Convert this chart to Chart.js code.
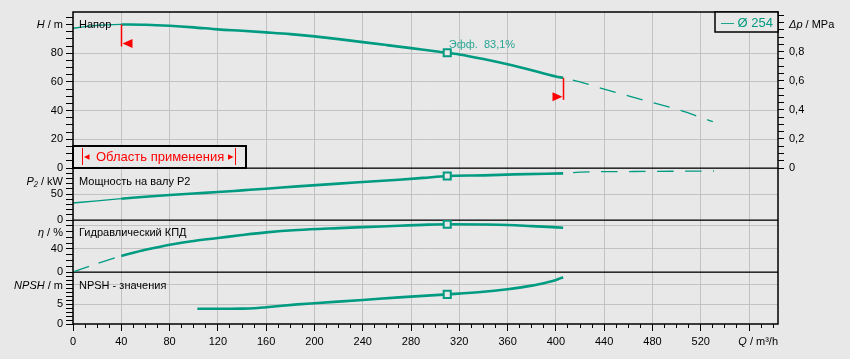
<!DOCTYPE html>
<html>
<head>
<meta charset="utf-8">
<script src="https://cdn.jsdelivr.net/npm/chart.js@4.4.0/dist/chart.umd.min.js"></script>
<style>
  html, body { margin: 0; padding: 0; background: #e8e8e8; }
  canvas { display: block; }
</style>
</head>
<body>
<canvas id="pump-chart" width="850" height="359"></canvas>
<script>
// Pump curves, Q in m3/h

const qHead = [0, 10, 20, 40, 60, 80, 100, 120, 140, 160, 180, 200, 220, 240, 260, 280, 300, 310, 320, 340, 360, 380, 400, 406];
const head = [97.4, 98.6, 99.5, 100.1, 99.9, 99.2, 98.1, 96.7, 95.7, 94.6, 93.4, 91.8, 89.9, 87.8, 85.7, 83.6, 81.4, 80.4, 79.2, 76.0, 72.3, 68.2, 63.8, 62.9];
const qHeadExt = [406, 420, 440, 460, 480, 500, 520, 530];
const headExt = [62.9, 60.0, 55.0, 50.3, 45.6, 41.0, 35.3, 32.3];

const qPower = [0, 20, 40, 60, 80, 100, 120, 140, 160, 186, 220, 240, 270, 290, 310, 340, 365, 406];
const power = [32.7, 36.9, 41, 44.6, 48, 51, 53.8, 57, 60.2, 64.6, 70, 73, 77.5, 81, 84.6, 85.8, 87.7, 89.6];
const qPowerExt = [406, 420, 460, 500, 531];
const powerExt = [89.6, 92, 93.2, 93.8, 94.2];

const qEta = [0, 20, 40, 60, 80, 100, 120, 140, 160, 186, 220, 240, 270, 290, 310, 340, 360, 380, 406];
const eta = [0, 14.5, 28, 38.5, 47.5, 54, 59.1, 64.3, 68.9, 73, 76.3, 78.0, 80.3, 82, 83.1, 82.6, 81.8, 79.8, 77];

const qNpsh = [103, 120, 140, 150, 160, 186, 200, 240, 270, 310, 340, 360, 370, 380, 390, 400, 406];
const npsh = [3.8, 3.8, 3.85, 3.95, 4.2, 4.9, 5.2, 6.0, 6.65, 7.4, 8.05, 8.7, 9.1, 9.6, 10.2, 11.0, 11.7];

const bepQ = 310;
const appRange = [40, 406];

// tick labels and grid lines
const qLabels = [0, 40, 80, 120, 160, 200, 240, 280, 320, 360, 400, 440, 480, 520];
const headLabels = [0, 20, 40, 60, 80];
const headGrid = [20, 40, 60, 80];
const dpLabels = [0, 0.2, 0.4, 0.6, 0.8];
const powerLabels = [0, 50];
const powerGrid = [50];
const etaLabels = [0, 40];
const etaGrid = [40, 80];
const npshLabels = [0, 5];
const npshGrid = [5, 10];

const teal = '#009b80';
const gridGray = '#c2c2c2';
const bg = '#e8e8e8';
const family = '"Liberation Sans", Arial, sans-serif';
const font = { family, size: 11 };
const none = 'rgba(0,0,0,0)';

function pts(qs, vs, from, to) {
  return qs.map((q, i) => ({ x: q, y: vs[i] })).filter(p => p.x >= from && p.x <= to);
}

function steps(max, step) {
  const out = [];
  for (let v = 0; v <= max + 1e-9; v += step) out.push({ value: Math.round(v * 1000) / 1000 });
  return out;
}

function leftAxis(weight, stackWeight, max, step, labels, grid) {
  return {
    type: 'linear',
    position: 'left',
    stack: 'left',
    stackWeight,
    weight,
    min: 0,
    max,
    afterBuildTicks: a => { a.ticks = steps(max, step); },
    afterFit: a => { a.width = 73; },
    ticks: { autoSkip: false, color: '#000', font, padding: 3, callback: v => labels.includes(v) ? v : '' },
    grid: {
      color: c => c.tick && grid.includes(c.tick.value) ? gridGray : none,
      tickColor: '#000',
      tickLength: 7,
    },
    border: { display: false },
  };
}

function line(data, yAxisID, extra) {
  return Object.assign({
    type: 'line', data, yAxisID, xAxisID: 'x',
    borderColor: teal, borderWidth: 2.6, pointRadius: 0, fill: false,
    cubicInterpolationMode: 'monotone', order: 1,
  }, extra);
}

function bep(qs, vs, yAxisID) {
  const i = qs.indexOf(bepQ);
  return {
    type: 'line', data: [{ x: bepQ, y: vs[i] }], yAxisID, xAxisID: 'x', showLine: false,
    pointStyle: 'rect', pointRadius: 5, pointBackgroundColor: bg,
    pointBorderColor: teal, pointBorderWidth: 2, order: 0,
  };
}

const thin = { borderWidth: 1.3 };
const dashed = { borderWidth: 1.3, borderDash: [16.5, 11.5], borderDashOffset: 18 };

function drawParts(ctx, parts, x, y, align, size) {
  const fonts = parts.map(p => (p[1] ? 'italic ' : '') + (size || 11) + 'px ' + family);
  const widths = parts.map((p, i) => { ctx.font = fonts[i]; return ctx.measureText(p[0]).width; });
  let cx = align === 'right' ? x - widths.reduce((s, w) => s + w, 0) : x;
  ctx.textAlign = 'left';
  ctx.textBaseline = 'middle';
  parts.forEach((p, i) => { ctx.font = fonts[i]; ctx.fillText(p[0], cx, y); cx += widths[i]; });
}

// triangle with its tip at (x, y); dir 1 = base to the right (tip points left)
function flag(ctx, x, y, dir, len, half) {
  ctx.beginPath();
  ctx.moveTo(x, y);
  ctx.lineTo(x + dir * len, y - half);
  ctx.lineTo(x + dir * len, y + half);
  ctx.closePath();
  ctx.fill();
}

const overlay = {
  id: 'overlay',
  beforeDatasetsDraw(chart) {
    const { ctx, chartArea: a, scales } = chart;
    ctx.save();
    ctx.fillStyle = '#000';
    [scales.yH.bottom, scales.yP2.bottom, scales.yEta.bottom].forEach(y => {
      ctx.fillRect(a.left, Math.round(y) - 0.5, a.right - a.left, 1.3);
    });
    ctx.restore();
  },
  afterDraw(chart) {
    const { ctx, chartArea: a, scales } = chart;
    const x = scales.x, yH = scales.yH;
    ctx.save();

    // frame
    ctx.strokeStyle = '#000';
    ctx.lineWidth = 1.5;
    ctx.strokeRect(a.left, a.top, a.right - a.left, a.bottom - a.top);

    // axis titles
    ctx.fillStyle = '#000';
    drawParts(ctx, [['H', true], [' / m', false]], 63, yH.top + 12.5, 'right');
    drawParts(ctx, [['P₂', true], [' / kW', false]], 63, scales.yP2.top + 13.5, 'right');
    drawParts(ctx, [['η', true], [' / %', false]], 63, scales.yEta.top + 13, 'right');
    drawParts(ctx, [['NPSH', true], [' / m', false]], 63, scales.yNpsh.top + 13.5, 'right');
    drawParts(ctx, [['Δp', true], [' / MPa', false]], 789, yH.top + 12.5, 'left');
    drawParts(ctx, [['Q', true], [' / m³/h', false]], a.right, 342, 'right');

    // panel captions
    drawParts(ctx, [['Напор', false]], 79, yH.top + 13, 'left');
    drawParts(ctx, [['Мощность на валу P2', false]], 79, scales.yP2.top + 13.5, 'left');
    drawParts(ctx, [['Гидравлический КПД', false]], 79, scales.yEta.top + 13, 'left');
    drawParts(ctx, [['NPSH - значения', false]], 79, scales.yNpsh.top + 13.5, 'left');

    // efficiency label at the duty point
    const ei = qEta.indexOf(bepQ);
    const bx = x.getPixelForValue(bepQ);
    const by = yH.getPixelForValue(head[qHead.indexOf(bepQ)]);
    ctx.fillStyle = '#2aa593';
    drawParts(ctx, [['Эфф.  ' + String(eta[ei]).replace('.', ',') + '%', false]], bx + 1.5, by - 7.5, 'left');

    // legend box
    ctx.fillStyle = bg;
    ctx.fillRect(a.right - 63, a.top, 63, 20);
    ctx.strokeStyle = '#000';
    ctx.lineWidth = 1.5;
    ctx.strokeRect(a.right - 63, a.top, 63, 20);
    ctx.fillStyle = teal;
    drawParts(ctx, [['— Ø 254', false]], a.right - 57, a.top + 11, 'left', 13);

    // application range limits on the head curve
    ctx.strokeStyle = '#ff0000';
    ctx.fillStyle = '#ff0000';
    ctx.lineWidth = 1.5;
    appRange.forEach((q, k) => {
      const px = Math.round(x.getPixelForValue(q)) + 0.5;
      const py = yH.getPixelForValue(head[qHead.indexOf(q)]);
      ctx.beginPath();
      ctx.moveTo(px, py);
      ctx.lineTo(px, py + 22);
      ctx.stroke();
      flag(ctx, px + (k === 0 ? 1 : -1), py + 19, k === 0 ? 1 : -1, 10, 4.5);
    });

    // application range box
    const boxTop = yH.bottom - 22;
    ctx.fillStyle = bg;
    ctx.fillRect(a.left, boxTop, 173, 22);
    ctx.strokeStyle = '#000';
    ctx.lineWidth = 2;
    ctx.strokeRect(a.left, boxTop, 173, 22);
    ctx.strokeStyle = '#ff0000';
    ctx.fillStyle = '#ff0000';
    ctx.lineWidth = 1;
    [a.left + 9.5, a.left + 162.5].forEach(bxx => {
      ctx.beginPath();
      ctx.moveTo(bxx, boxTop + 2);
      ctx.lineTo(bxx, boxTop + 19);
      ctx.stroke();
    });
    flag(ctx, a.left + 11, boxTop + 11, 1, 5.5, 2.8);
    flag(ctx, a.left + 160.5, boxTop + 11, -1, 5.5, 2.8);
    drawParts(ctx, [['Область применения', false]], a.left + 23, boxTop + 11, 'left', 13);

    ctx.restore();
  },
};

const ctx = document.getElementById('pump-chart');

new Chart(ctx, {
  type: 'line',
  data: {
    datasets: [
      bep(qHead, head, 'yH'),
      bep(qPower, power, 'yP2'),
      bep(qEta, eta, 'yEta'),
      bep(qNpsh, npsh, 'yNpsh'),
      line(pts(qHead, head, appRange[0], appRange[1]), 'yH'),
      line(pts(qHead, head, 0, appRange[0]), 'yH', thin),
      line(pts(qHeadExt, headExt, 0, 600), 'yH', dashed),
      line(pts(qPower, power, appRange[0], appRange[1]), 'yP2'),
      line(pts(qPower, power, 0, appRange[0]), 'yP2', thin),
      line(pts(qPowerExt, powerExt, 0, 600), 'yP2', dashed),
      line(pts(qEta, eta, appRange[0], appRange[1]), 'yEta'),
      line(pts(qEta, eta, 0, appRange[0]), 'yEta', { borderWidth: 1.3, borderDash: [17, 10] }),
      line(pts(qNpsh, npsh, 0, appRange[1]), 'yNpsh'),
    ],
  },
  options: {
    responsive: false,
    animation: false,
    devicePixelRatio: 1,
    layout: { padding: { top: 12, left: 0, right: 0, bottom: 0 } },
    plugins: { legend: { display: false }, tooltip: { enabled: false } },
    scales: {
      x: {
        type: 'linear',
        position: 'bottom',
        min: 0,
        max: 584,
        afterBuildTicks: a => { a.ticks = steps(580, 10); },
        afterFit: a => { a.height = 35; },
        ticks: { autoSkip: false, maxRotation: 0, color: '#000', font, padding: 4, callback: v => qLabels.includes(v) ? v : '' },
        grid: {
          color: c => c.tick && c.tick.value % 40 === 0 ? gridGray : none,
          tickColor: '#000',
          tickLength: 7,
          tickBorderDash: c => c.tick && c.tick.value % 40 === 0 ? [] : [4, 20],
        },
        border: { display: false },
      },
      yH: leftAxis(4, 3, 108.8, 5, headLabels, headGrid),
      yP2: leftAxis(3, 1, 100, 10, powerLabels, powerGrid),
      yEta: leftAxis(2, 1, 90.4, 10, etaLabels, etaGrid),
      yNpsh: leftAxis(1, 1, 13, 1, npshLabels, npshGrid),
      yDp: {
        type: 'linear',
        position: 'right',
        stack: 'right',
        stackWeight: 3,
        weight: 0,
        min: 0,
        max: 1.073,
        afterBuildTicks: a => { a.ticks = steps(1.073, 0.05); },
        afterFit: a => { a.width = 72; },
        ticks: { autoSkip: false, color: '#000', font, padding: 5, callback: v => dpLabels.includes(v) ? String(v).replace('.', ',') : '' },
        grid: { drawOnChartArea: false, tickColor: '#000', tickLength: 6 },
        border: { display: false },
      },
      yBlank: {
        type: 'linear',
        position: 'right',
        stack: 'right',
        stackWeight: 3,
        weight: 1,
        min: 0,
        max: 1,
        afterFit: a => { a.width = 72; },
        ticks: { display: false },
        grid: { display: false },
        border: { display: false },
      },
    },
  },
  plugins: [overlay],
});
</script>
</body>
</html>
